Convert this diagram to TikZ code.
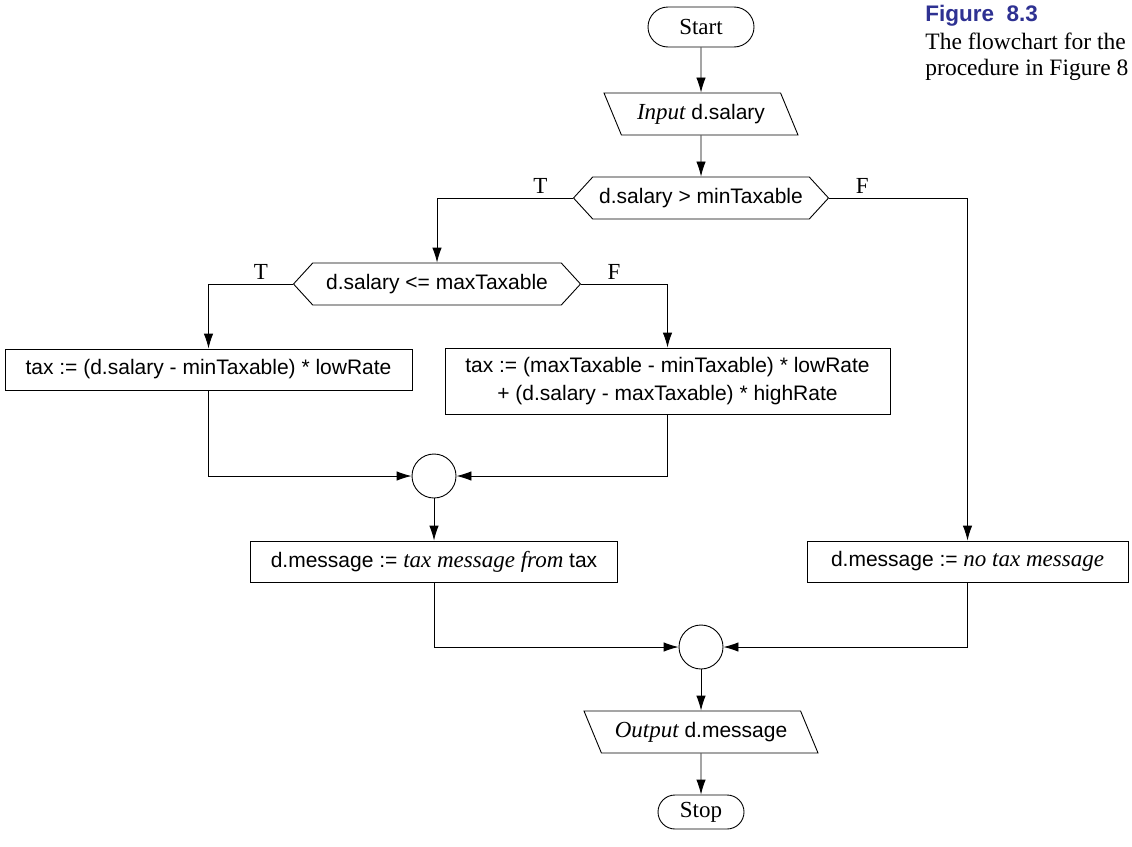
\documentclass[tikz,border=0pt]{standalone}
\usepackage{fontspec}
\setmainfont{Liberation Serif}
\setsansfont{Liberation Sans}
\usetikzlibrary{shapes.misc,shapes.geometric,shapes.symbols,arrows.meta}
\definecolor{figblue}{RGB}{46,49,146}
\newcommand{\ital}[1]{{\rmfamily\itshape\fontsize{23}{27}\selectfont #1}}
\tikzstyle{terminal}=[draw,rounded rectangle,inner sep=0pt,font=\rmfamily\fontsize{23}{27}\selectfont]
\tikzstyle{io}=[draw,trapezium,trapezium left angle=114,trapezium right angle=66,trapezium stretches body=true,minimum height=42pt,inner xsep=0pt,inner ysep=9.5pt,font=\sffamily\fontsize{21}{25}\selectfont]
\tikzstyle{decision}=[draw,signal,signal to=west and east,signal pointer angle=95,minimum height=42pt,inner ysep=0pt,font=\sffamily\fontsize{21}{25}\selectfont]
\tikzstyle{process}=[draw,rectangle,minimum height=41pt,inner sep=0pt,align=center,font=\sffamily\fontsize{21}{28}\selectfont]
\tikzstyle{joint}=[draw,circle,minimum size=44pt,inner sep=0pt]
\tikzstyle{flow}=[-{Latex[length=15pt,width=9.5pt]}]
\tikzstyle{branch}=[inner sep=0pt,font=\rmfamily\fontsize{23}{27}\selectfont]

\begin{document}
\begin{tikzpicture}[x=1pt,y=-1pt,line width=0.9pt]
    \useasboundingbox (0,0) rectangle (1132,846);
    % caption
    \node[anchor=north west,inner sep=0pt,text=figblue,font=\sffamily\bfseries\fontsize{22.5}{26}\selectfont] (fig) at (925,5) {Figure~~8.3};
    \node[anchor=north west,inner sep=0pt,align=left,font=\rmfamily\fontsize{23.5}{26}\selectfont] (cap) at (925,33) {The flowchart for the\\procedure in Figure 8};
    % top
    \node[terminal,minimum width=106pt,minimum height=40pt] (st) at (701,27) {Start};
    \node[io,minimum width=194pt] (inp) at (701,114) {\ital{Input} d.salary};
    \node[decision,minimum width=255pt] (d1) at (701,198) {d.salary > minTaxable};
    \node[decision,minimum width=287pt] (d2) at (437,284) {d.salary <= maxTaxable};
    % tax
    \node[process,minimum width=407pt] (lo) at (208.5,369.5) {tax := (d.salary - minTaxable) * lowRate};
    \node[process,minimum width=445pt,minimum height=66pt] (hi) at (667.5,381) {tax := (maxTaxable - minTaxable) * lowRate\\+ (d.salary - maxTaxable) * highRate};
    \node[joint] (j1) at (434,476) {};
    % messages
    \node[process,minimum width=367pt] (mt) at (434,561.5) {d.message := \ital{tax message from} tax};
    \node[process,minimum width=321pt] (mn) at (967.5,561.5) {d.message := \ital{no tax message}};
    \node[joint] (j2) at (701,647) {};
    % bottom
    \node[io,minimum width=234pt] (outp) at (701,732) {\ital{Output} d.message};
    \node[terminal,minimum width=86pt,minimum height=34pt] (sp) at (701,812) {Stop};

    \draw[flow] (st) -- (inp);
    \draw[flow] (inp) -- (d1);
    \draw[flow] (d1.west) -| node[branch,pos=0.12,above=4pt]{T} (d2.north);
    \draw[flow] (d1.east) -| node[branch,pos=0.12,above=4pt]{F} (mn.north);
    \draw[flow] (d2.west) -| node[branch,pos=0.19,above=4pt]{T} (lo.north);
    \draw[flow] (d2.east) -| node[branch,pos=0.19,above=4pt]{F} (hi.north);
    \draw[flow] (lo.south) |- (j1.west);
    \draw[flow] (hi.south) |- (j1.east);
    \draw[flow] (j1) -- (mt);
    \draw[flow] (mt.south) |- (j2.west);
    \draw[flow] (mn.south) |- (j2.east);
    \draw[flow] (j2) -- (outp);
    \draw[flow] (outp) -- (sp);
\end{tikzpicture}
\end{document}
